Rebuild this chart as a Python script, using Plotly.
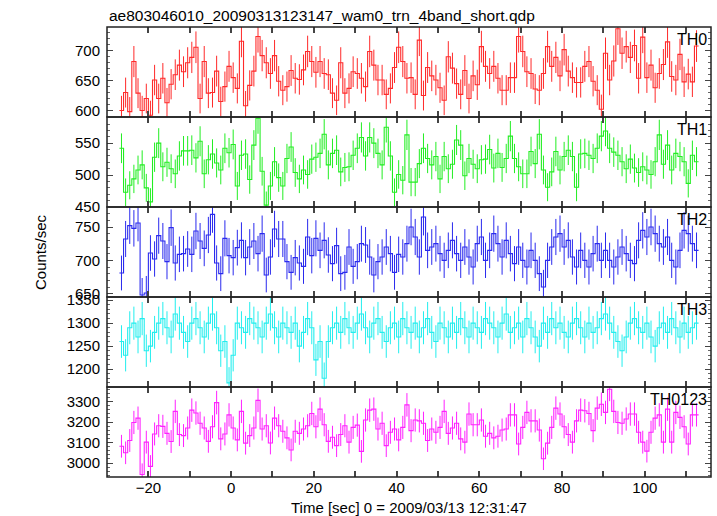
import numpy as np
import plotly.graph_objects as go

# ---------------- data ----------------
t_start = -27.0      # start time of first bin [sec]
bin_width = 1.0      # bin width [sec]

th0 = [600,630,598,682,629,600,620,592,651,620,
       654,613,644,660,676,665,680,689,706,620,
       682,629,630,666,615,640,674,655,637,716,
       608,642,666,724,692,680,662,692,649,634,
       640,667,654,652,668,699,682,664,682,662,
       660,629,617,680,629,637,665,662,654,640,
       699,676,651,651,627,637,672,706,682,654,
       655,
       627,718,625,672,658,651,638,617,690,671,
       645,627,667,620,658,643,707,674,662,674,
       654,634,634,655,655,724,699,665,662,636,
       634,662,707,674,689,658,702,666,655,647,
       647,674,682,649,634,602,696,651,683,737,
       696,707,689,709,654,723,655,676,638,662,
       677,715,657,651,694,648,661,648,708]

th1 = [542,473,484,494,508,516,480,458,528,550,
       513,520,510,502,530,538,538,539,527,553,
       502,524,533,519,508,542,535,548,483,531,
       533,493,547,589,506,453,483,521,496,483,
       526,544,504,494,508,501,525,528,534,564,
       516,534,539,505,512,513,531,542,559,530,
       559,550,534,516,575,530,473,501,492,563,
       489,
       489,518,542,526,516,529,494,529,510,517,
       555,547,499,526,517,510,524,525,540,511,
       534,512,526,561,526,513,502,502,537,518,
       564,508,481,505,537,508,529,539,529,481,
       533,534,531,526,542,561,569,542,536,531,
       521,510,525,511,504,513,508,501,521,563,
       517,547,508,534,529,521,487,531,521]

th2 = [681,732,752,748,756,648,651,711,702,737,
       729,698,749,696,709,710,717,709,744,729,
       718,738,769,696,680,733,707,704,719,730,
       704,720,729,710,740,678,705,747,732,732,
       698,682,704,696,691,735,707,733,715,730,
       708,695,722,680,682,720,691,698,725,723,
       705,678,698,705,720,710,682,709,705,725,
       750,
       735,705,765,715,720,725,710,700,715,730,
       710,700,720,705,690,725,735,700,715,740,
       725,705,730,710,695,720,700,690,715,700,
       680,660,700,720,735,740,720,730,705,690,
       715,700,690,710,725,700,715,700,690,705,
       720,710,700,695,730,745,735,750,740,725,
       720,735,700,690,715,745,740,725,715]

th3 = [1260,1230,1290,1300,1270,1310,1240,1250,1280,1300,
       1310,1290,1270,1320,1300,1280,1260,1300,1310,1290,
       1270,1300,1320,1290,1240,1260,1170,1230,1300,1290,
       1280,1310,1300,1290,1270,1300,1320,1290,1270,1300,
       1290,1280,1300,1250,1280,1310,1290,1220,1260,1180,
       1260,1290,1300,1280,1310,1290,1280,1300,1320,1290,
       1270,1300,1310,1280,1260,1290,1300,1270,1310,1290,
       1280,1300,1270,1290,1310,1280,1260,1300,1290,1270,
       1300,1280,1310,1290,1270,1300,1290,1280,1310,1300,
       1290,1270,1300,1320,1280,1290,1300,1270,1310,1290,
       1270,1250,1300,1280,1310,1290,1300,1280,1270,1300,
       1310,1290,1270,1300,1280,1290,1310,1320,1300,1280,
       1260,1240,1270,1300,1310,1290,1280,1300,1270,1250,
       1290,1300,1280,1310,1290,1270,1300,1280,1290,1300]

th0123 = [3082,3050,3110,3198,3219,2944,3102,2984,3142,3182,
          3179,3145,3105,3252,3139,3134,3171,3258,3244,3194,
          3171,3106,3177,3295,3118,3142,3235,3171,3113,3252,
          3097,3134,3171,3306,3166,3182,3098,3219,3182,3155,
          3123,3064,3155,3145,3166,3182,3242,3177,3263,3187,
          3106,3126,3085,3139,3182,3102,3174,3185,3057,3210,
          3258,3263,3166,3194,3085,3150,3166,3113,3174,3284,
          3158,3210,3206,3194,3110,3166,3150,3174,3252,3145,
          3171,3194,3118,3102,3239,3187,3187,3210,3131,3145,
          3123,3131,3161,3166,3235,3235,3093,3174,3247,3206,
          3206,3161,3021,3097,3174,3268,3239,3177,3139,3102,
          3206,3258,3255,3242,3158,3268,3287,3247,3360,3252,
          3198,3194,3215,3239,3239,3150,3102,3058,3150,3219,
          3235,3102,3263,3102,3247,3223,3177,3093,3235,3235]

panel_names = ["TH0", "TH1", "TH2", "TH3", "TH0123"]
panel_values = [th0, th1, th2, th3, th0123]
panel_colors = ["#ff2a2a", "#22ee22", "#2a2aee", "#22eeee", "#ff22ff"]
panel_ranges = [[589, 740], [450, 591], [645, 780], [1161, 1357], [2932, 3371]]
panel_ticks = [[600, 650, 700], [450, 500, 550], [650, 700, 750],
               [1200, 1250, 1300, 1350], [3000, 3100, 3200, 3300]]
panel_minor = [10, 10, 10, 10, 20]

x_range = [-30, 116]
x_tickvals = list(range(-30, 111, 10))
x_ticktext = [("\u2212" + str(-v) if v < 0 else str(v)) if v % 20 == 0 else "" for v in x_tickvals]

title_text = "ae803046010_20090313123147_wam0_trn_4band_short.qdp"
x_title = "Time [sec] 0 = 2009/03/13 12:31:47"
y_title = "Counts/sec"

# ---------------- figure ----------------
FONT = "Liberation Sans, Arial, Helvetica, sans-serif"
fig = go.Figure()
n_pan = len(panel_values)

for i in range(n_pan):
    vals = np.asarray(panel_values[i], dtype=float)
    n = len(vals)
    edges = t_start + bin_width * np.arange(n + 1)
    centers = t_start + bin_width * (np.arange(n) + 0.5)
    err = np.sqrt(vals * bin_width) / bin_width
    xa = "x" if i == 0 else f"x{i+1}"
    ya = "y" if i == 0 else f"y{i+1}"
    col = panel_colors[i]
    fig.add_trace(go.Scatter(
        x=centers, y=vals, mode="markers",
        marker=dict(size=1, color="rgba(0,0,0,0)"),
        error_y=dict(type="data", array=err, color=col, thickness=1, width=0),
        xaxis=xa, yaxis=ya, showlegend=False, hoverinfo="skip"))
    fig.add_trace(go.Scatter(
        x=edges, y=np.append(vals, vals[-1]), mode="lines",
        line=dict(shape="hv", color=col, width=1.1),
        xaxis=xa, yaxis=ya, showlegend=False))

layout = dict(
    width=717, height=516,
    margin=dict(l=107, r=6, t=27, b=39),
    paper_bgcolor="white", plot_bgcolor="white",
    font=dict(family=FONT, size=15, color="black"),
    showlegend=False,
)

h = 1.0 / n_pan
shapes = []
for i in range(n_pan):
    key = "" if i == 0 else str(i + 1)
    top = 1 - i * h
    bottom = 1 - (i + 1) * h
    layout["xaxis" + key] = dict(
        domain=[0, 1], range=x_range, anchor="y" + key,
        matches=None if i == 0 else "x",
        showline=False, mirror="ticks",
        ticks="inside", ticklen=6, tickwidth=1.5, tickcolor="#444",
        tickmode="array", tickvals=x_tickvals, ticktext=x_ticktext,
        showticklabels=(i == n_pan - 1), showgrid=False, zeroline=False,
        tickfont=dict(size=15, family=FONT, color="black"),
    )
    layout["yaxis" + key] = dict(
        domain=[bottom, top], range=panel_ranges[i], anchor="x" + key,
        showline=False, mirror="ticks",
        ticks="inside", ticklen=6, tickwidth=1.2, tickcolor="#444",
        tickmode="array", tickvals=panel_ticks[i],
        ticktext=[str(v) for v in panel_ticks[i]],
        minor=dict(ticks="inside", ticklen=3, dtick=panel_minor[i],
                   tick0=0, tickcolor="#666", tickwidth=1),
        showgrid=False, zeroline=False, ticklabelstandoff=6,
        tickfont=dict(size=15, family=FONT, color="black"),
    )
    shapes.append(dict(type="rect", xref="paper", yref="paper",
                       x0=0, x1=1, y0=bottom, y1=top,
                       line=dict(color="#222", width=1.5), layer="above"))
layout["shapes"] = shapes

annotations = []
for i in range(n_pan):
    top = 1 - i * h
    annotations.append(dict(
        text=panel_names[i], xref="paper", yref="paper",
        x=0.997, y=top - 0.004, xanchor="right", yanchor="top",
        showarrow=False, font=dict(size=16, family=FONT, color="black")))
annotations.append(dict(
    text=title_text, xref="paper", yref="paper", x=0, y=1.0,
    xanchor="left", yanchor="bottom", yshift=1, showarrow=False,
    font=dict(size=15.5, family=FONT, color="black")))
annotations.append(dict(
    text=x_title, xref="paper", yref="paper", x=0.5, y=0,
    xanchor="center", yanchor="top", yshift=-20, showarrow=False,
    font=dict(size=15, family=FONT, color="black")))
annotations.append(dict(
    text=y_title, xref="paper", yref="paper", x=0, y=0.5,
    xanchor="center", yanchor="middle", xshift=-67, textangle=-90,
    showarrow=False, font=dict(size=15, family=FONT, color="black")))
layout["annotations"] = annotations

fig.update_layout(**layout)
fig.write_html("out.html", config={"displayModeBar": False},
               post_script="document.body.style.margin='0';document.body.style.padding='0';")
